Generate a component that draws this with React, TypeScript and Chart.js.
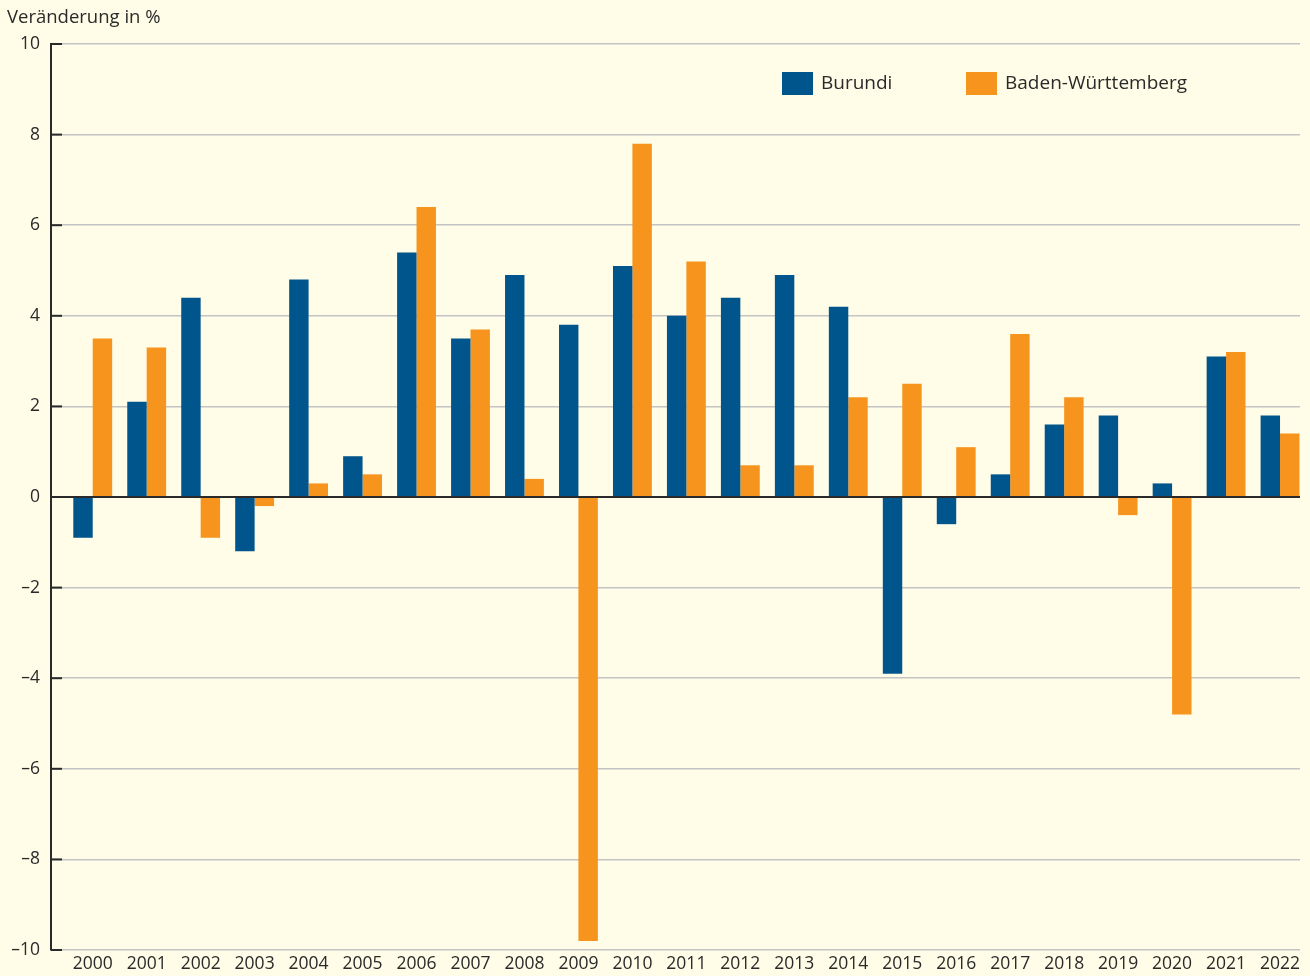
import React, { useEffect, useRef } from "react";
import { Chart, registerables } from "chart.js";

Chart.register(...registerables);

const years = ["2000","2001","2002","2003","2004","2005","2006","2007","2008","2009","2010","2011","2012","2013","2014","2015","2016","2017","2018","2019","2020","2021","2022"];
const burundi = [-0.9, 2.1, 4.4, -1.2, 4.8, 0.9, 5.4, 3.5, 4.9, 3.8, 5.1, 4.0, 4.4, 4.9, 4.2, -3.9, -0.6, 0.5, 1.6, 1.8, 0.3, 3.1, 1.8];
const badenWuerttemberg = [3.5, 3.3, -0.9, -0.2, 0.3, 0.5, 6.4, 3.7, 0.4, -9.8, 7.8, 5.2, 0.7, 0.7, 2.2, 2.5, 1.1, 3.6, 2.2, -0.4, -4.8, 3.2, 1.4];
const yTicks = [-10, -8, -6, -4, -2, 0, 2, 4, 6, 8, 10];
const seriesNames = ["Burundi", "Baden-Württemberg"];
const yTitle = "Veränderung in %";

const BLUE = "#00558c";
const ORANGE = "#f7941e";
const TEXT = "#2a2a2a";
const FONT = "'Open Sans', 'Liberation Sans', Arial, sans-serif";

export default function App() {
  const ref = useRef<HTMLCanvasElement | null>(null);

  useEffect(() => {
    const canvas = ref.current;
    if (!canvas) return;

    const overlay = {
      id: "overlay",
      afterDatasetsDraw(chart: any) {
        const ctx = chart.ctx;
        const { left, right } = chart.chartArea;
        const y = chart.scales.y;
        ctx.save();
        const y0 = y.getPixelForValue(0);
        ctx.strokeStyle = "#2a2a2a";
        ctx.lineWidth = 2;
        ctx.beginPath();
        ctx.moveTo(left, y0);
        ctx.lineTo(right, y0);
        ctx.stroke();
        yTicks.forEach((v) => {
          const py = y.getPixelForValue(v);
          ctx.beginPath();
          ctx.moveTo(left, py);
          ctx.lineTo(left + 11, py);
          ctx.stroke();
        });
        ctx.restore();
      },
      afterDraw(chart: any) {
        const ctx = chart.ctx;
        ctx.save();
        ctx.fillStyle = TEXT;
        ctx.font = `18.5px ${FONT}`;
        ctx.textBaseline = "middle";
        ctx.textAlign = "left";
        ctx.fillText(yTitle, 7, 18);
        const items = [
          { x: 782, color: BLUE, label: seriesNames[0] },
          { x: 966, color: ORANGE, label: seriesNames[1] },
        ];
        ctx.font = `19px ${FONT}`;
        items.forEach((it) => {
          ctx.fillStyle = it.color;
          ctx.fillRect(it.x, 72, 31, 23);
          ctx.fillStyle = TEXT;
          ctx.fillText(it.label, it.x + 39, 84);
        });
        ctx.restore();
      },
    };

    const chart = new Chart(canvas, {
      type: "bar",
      data: {
        datasets: [
          {
            label: seriesNames[0],
            data: burundi.map((v, i) => ({ x: i, y: v })),
            backgroundColor: BLUE,
            borderWidth: 0,
          },
          {
            label: seriesNames[1],
            data: badenWuerttemberg.map((v, i) => ({ x: i, y: v })),
            backgroundColor: ORANGE,
            borderWidth: 0,
          },
        ],
      },
      options: {
        animation: false,
        responsive: false,
        maintainAspectRatio: false,
        layout: { padding: { top: 44, right: 10, bottom: 0, left: 0 } },
        datasets: {
          bar: { categoryPercentage: 0.72, barPercentage: 1.0 },
        },
        plugins: {
          legend: { display: false },
          title: { display: false },
          tooltip: { enabled: false },
        },
        scales: {
          x: {
            type: "linear",
            min: -0.773,
            max: 22.37,
            offset: false,
            afterBuildTicks: (scale: any) => {
              scale.ticks = years.map((_, i) => ({ value: i }));
            },
            afterFit: (scale: any) => {
              scale.height = 26;
            },
            ticks: {
              autoSkip: false,
              maxRotation: 0,
              padding: 4,
              color: TEXT,
              font: { family: FONT, size: 17.5 },
              callback: (v: any) => years[Math.round(Number(v))] ?? "",
            },
            grid: { display: false, drawTicks: false },
            border: { display: false },
          },
          y: {
            min: -10,
            max: 10,
            afterBuildTicks: (scale: any) => {
              scale.ticks = yTicks.map((v) => ({ value: v }));
            },
            afterFit: (scale: any) => {
              scale.width = 51;
            },
            ticks: {
              padding: 11,
              color: TEXT,
              font: { family: FONT, size: 17.5 },
              callback: (v: any) => (Number(v) < 0 ? "–" + Math.abs(Number(v)) : String(v)),
            },
            grid: {
              drawTicks: false,
              color: "#c4c4c4",
              lineWidth: 1.5,
            },
            border: { display: true, color: "#2a2a2a", width: 2 },
          },
        },
      },
      plugins: [overlay],
    });

    return () => chart.destroy();
  }, []);

  return (
    <div
      style={{
        position: "fixed",
        left: 0,
        top: 0,
        width: 1310,
        height: 976,
        background: "#fffce7",
      }}
    >
      <canvas ref={ref} width={1310} height={976} style={{ display: "block" }} />
    </div>
  );
}
